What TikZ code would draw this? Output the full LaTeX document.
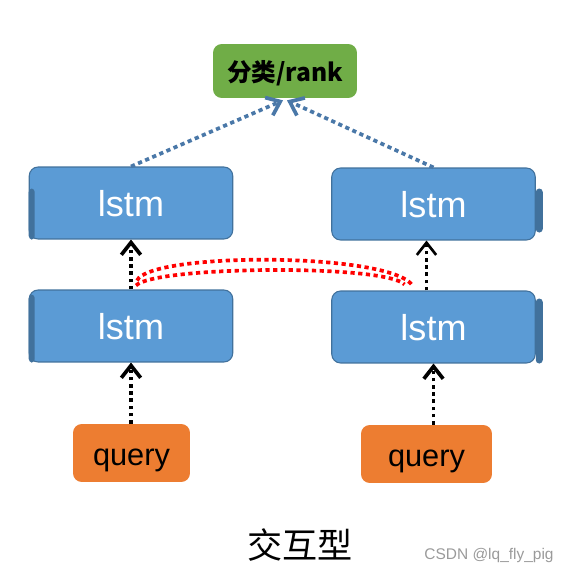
\documentclass[tikz,border=0pt]{standalone}
\usepackage{fontspec}
\setmainfont{Liberation Sans}
\newfontfamily\cjk{Noto Sans CJK SC}
\usepackage{tikz}
\usetikzlibrary{calc}
\usetikzlibrary{positioning}
\usetikzlibrary{arrows.meta}
\definecolor{lstmblue}{HTML}{5B9BD5}
\definecolor{lstmedge}{HTML}{41719C}
\definecolor{queryorange}{HTML}{ED7D31}
\definecolor{rankgreen}{HTML}{70AD47}
\definecolor{linkblue}{HTML}{4A78A8}
\definecolor{markgray}{HTML}{9A9A9A}
\tikzset{
  box/.style = {inner sep=0pt, rounded corners=5pt, text depth=0pt},
  lstm_node/.style = {box, fill=lstmblue, draw=lstmedge, line width=0.6pt,
    text=white, minimum width=4.07cm, minimum height=1.44cm, text height=15.8pt,
    font=\fontsize{20.5}{24}\selectfont},
  query_node/.style = {box, fill=queryorange, minimum height=1.16cm,
    text height=14.5pt, font=\fontsize{17.5}{20}\selectfont},
  rank_node/.style = {box, fill=rankgreen, minimum width=2.88cm,
    minimum height=1.08cm, font=\cjk\bfseries\fontsize{14}{16}\selectfont},
  side_strip/.style = {fill=lstmedge, rounded corners=2pt},
  up_arrow/.style = {line width=2.1pt, dash pattern=on 2.1pt off 2pt,
    -{Straight Barb[length=7pt,width=11pt]}},
  rank_arrow/.style = {linkblue, line width=2.1pt,
    dash pattern=on 2.4pt off 2pt, -{Straight Barb[length=7pt,width=11pt]}},
  cross_link/.style = {red, line width=2.1pt, dash pattern=on 2.4pt off 2pt}
}
\begin{document}
\begin{tikzpicture}[x=0.02cm, y=-0.02cm]
  \useasboundingbox (0,0) rectangle (570,574);

  % classifier on top
  \node [rank_node] (rank) at (285,71) {分类/rank};

  % lstm stacks
  \node [lstm_node] (lt) at (131,203) {lstm};
  \node [lstm_node] (rt) at (433.5,204) {lstm};
  \node [lstm_node] (lb) at (131,326) {lstm};
  \node [lstm_node] (rb) at (433.5,327) {lstm};
  \fill [side_strip] (lt.south west) rectangle ++(6,-51);
  \fill [side_strip] (lb.south west) rectangle ++(6,-68);
  \fill [side_strip] ($(rt.south east)+(0,-8)$) rectangle ++(7,-44);
  \fill [side_strip] (rb.south east) rectangle ++(7,-65);

  % inputs
  \node [query_node, minimum width=2.34cm] (ql) at (131.5,453) {query};
  \node [query_node, minimum width=2.62cm] (qr) at (426.5,454) {query};

  % caption
  \node [font=\cjk\fontsize{20}{22}\selectfont] (title) at (300,545) {交互型};
  \node [font=\fontsize{8.8}{10}\selectfont, text=markgray] (mark) at (489,555)
    {CSDN @lq\_fly\_pig};

  % arrows
  \draw [up_arrow] (ql.north -| lb.south) -- (lb.south);
  \draw [up_arrow] (qr.north -| rb.south) -- (rb.south);
  \draw [up_arrow] (lb.north) -- (lt.south);
  \draw [up_arrow, line width=1.5pt] (rb.north -| qr.north) -- (rt.south -| qr.north);
  \draw [rank_arrow] (lt.north) -- ($(rank.south)+(-2,2)$);
  \draw [rank_arrow] (rt.north) -- ($(rank.south)+(2,2)$);

  % interaction between the two sides
  \coordinate (la) at ($(lb.north)+(6,-9)$);
  \coordinate (lc) at ($(lb.north)+(5,-4)$);
  \coordinate (ra) at ($(rb.north)+(-21,-5)$);
  \coordinate (rc) at ($(rb.north)+(-29,-6)$);
  \draw [cross_link] (la) .. controls (150,252) and (390,252) .. (ra);
  \draw [cross_link] (lc) .. controls (155,266) and (385,264) .. (rc);
\end{tikzpicture}
\end{document}
